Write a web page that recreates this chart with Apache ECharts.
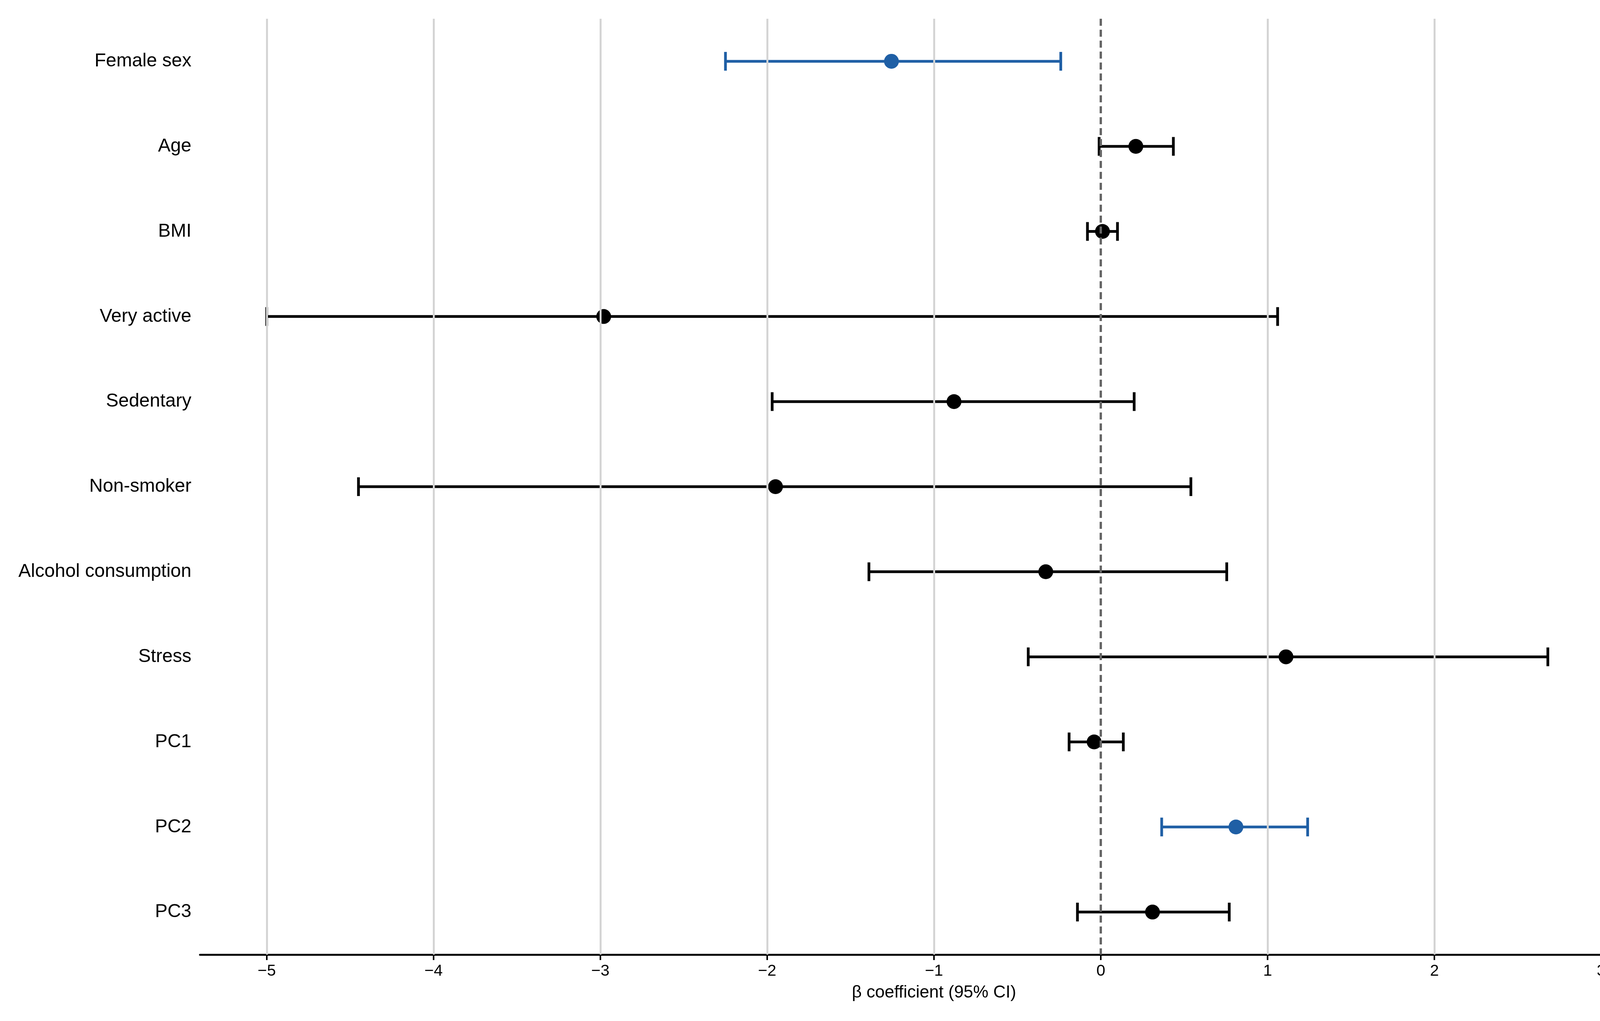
<!DOCTYPE html>
<html>
<head>
<meta charset="utf-8">
<script src="https://cdn.jsdelivr.net/npm/echarts@6/dist/echarts.min.js"></script>
<style>html,body{margin:0;padding:0;background:#fff}#chart{width:4292px;height:2614px}</style>
</head>
<body>
<div id="chart"></div>
<script>
// 变量名称
var categories = ['Female sex', 'Age', 'BMI', 'Very active', 'Sedentary', 'Non-smoker',
	'Alcohol consumption', 'Stress', 'PC1', 'PC2', 'PC3'];
// 估计值和95%置信区间
var estimates = [-1.255, 0.21, 0.01, -2.98, -0.88, -1.95, -0.33, 1.11, -0.04, 0.81, 0.31];
var lower = [-2.25, -0.01, -0.08, -5.0, -1.97, -4.45, -1.39, -0.435, -0.19, 0.365, -0.14];
var upper = [-0.24, 0.435, 0.10, 1.06, 0.20, 0.54, 0.755, 2.68, 0.135, 1.24, 0.77];
// 显著性（蓝色）
var significant = [true, false, false, false, false, false, false, false, false, true, false];
var xTicks = [-5, -4, -3, -2, -1, 0, 1, 2, 3];

var BLUE = '#1f5fa5', BLACK = '#000';
var font = 'Liberation Sans, Arial, sans-serif';

var myChart = echarts.init(document.getElementById('chart'));

var barData = [], pointData = [];
for (var i = 0; i < categories.length; i++) {
	var c = significant[i] ? BLUE : BLACK;
	barData.push({value: [i, lower[i], upper[i]], itemStyle: {color: c}});
	pointData.push({value: [estimates[i], i], itemStyle: {color: c, opacity: 1}});
}

var gridLines = [];
for (var k = 0; k < xTicks.length; k++) {
	if (xTicks[k] !== 0) gridLines.push({xAxis: xTicks[k]});
}

option = {
	animation: false,
	grid: {left: 512, right: 22, top: 48, bottom: 170},
	xAxis: {
		type: 'value', min: -5.4, max: 3.4,
		name: 'β coefficient (95% CI)', nameLocation: 'middle', nameGap: 76,
		nameTextStyle: {fontSize: 44, fontFamily: font, color: '#000'},
		axisLine: {show: true, lineStyle: {color: '#000', width: 5}},
		axisTick: {show: true, length: 14, lineStyle: {color: '#000', width: 4}, customValues: xTicks},
		axisLabel: {fontSize: 41, fontFamily: font, color: '#000', margin: 22, customValues: xTicks,
			formatter: function (v) { return v < 0 ? '\u2212' + Math.abs(v) : String(v); }},
		splitLine: {show: false}
	},
	yAxis: {
		type: 'category', data: categories, inverse: true,
		axisLine: {show: false}, axisTick: {show: false},
		axisLabel: {fontSize: 48, fontFamily: font, color: '#000', margin: 22},
		splitLine: {show: false}
	},
	series: [
		{
			type: 'scatter', data: [], silent: true,
			markLine: {
				symbol: 'none', silent: true, label: {show: false},
				lineStyle: {color: '#d4d4d4', width: 5, type: 'solid'},
				data: gridLines
			}
		},
		{
			type: 'custom', z: 3,
			renderItem: function (params, api) {
				var idx = api.value(0);
				var p1 = api.coord([api.value(1), idx]);
				var p2 = api.coord([api.value(2), idx]);
				var h = 24;
				var st = {stroke: api.visual('color'), lineWidth: 7, fill: null};
				return {
					type: 'group',
					children: [
						{type: 'line', shape: {x1: p1[0], y1: p1[1], x2: p2[0], y2: p2[1]}, style: st},
						{type: 'line', shape: {x1: p1[0], y1: p1[1] - h, x2: p1[0], y2: p1[1] + h}, style: st},
						{type: 'line', shape: {x1: p2[0], y1: p2[1] - h, x2: p2[0], y2: p2[1] + h}, style: st}
					]
				};
			},
			encode: {x: [1, 2], y: 0},
			data: barData
		},
		{
			type: 'scatter', z: 4, symbolSize: 38,
			itemStyle: {opacity: 1},
			data: pointData,
			markLine: {
				symbol: 'none', silent: true, label: {show: false},
				lineStyle: {color: '#666', width: 6, type: [18, 10]},
				data: [{xAxis: 0}]
			}
		}
	]
};
myChart.setOption(option);
</script>
</body>
</html>
